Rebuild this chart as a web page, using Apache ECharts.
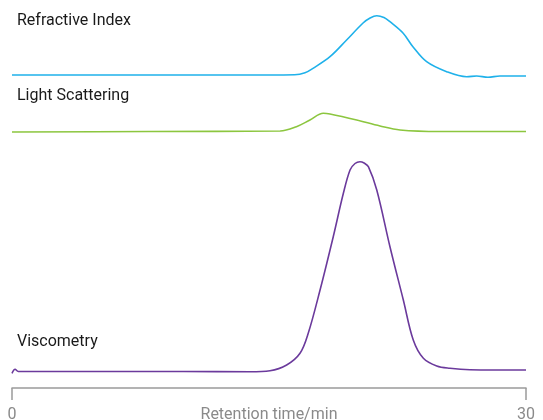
<!DOCTYPE html>
<html>
<head>
    <meta charset="utf-8">
    <title>Retention time</title>
    <script src="https://cdn.jsdelivr.net/npm/echarts@6/dist/echarts.min.js"></script>
    <style>
        html, body { margin: 0; padding: 0; background: #fff; }
        #chart1 { width: 543px; height: 420px; }
    </style>
</head>
<body>
<div id="chart1"></div>
<script type="text/javascript">
    // detector traces, [retention time (min), signal (arb. units)]
    var refractiveIndex = [
        [0, 0], [8, 0], [15, 0], [16.5, 0.2], [17.1, 2.2], [17.57, 6.7], [18.56, 18.3],
        [19.53, 35], [20.49, 52], [20.9, 57], [21.29, 59.3], [21.71, 57.5], [22.06, 53.3],
        [22.82, 42], [23.4, 28.3], [24.2, 13.3], [25.37, 3.3], [26.54, -1.7],
        [27.12, -1], [27.78, -2.3], [28.48, -1], [30, -1]
    ];
    var lightScattering = [
        [0, -0.5], [8, 0], [15.65, 0.5], [16.6, 4.8], [17.39, 11.5], [18.17, 18.2],
        [18.56, 17.5], [20.12, 11.5], [21.48, 5.5], [22.65, 1.5], [24.98, 0], [30, 0]
    ];
    var viscometry = [
        [0, -3.3], [0.18, 0.7], [0.37, -1.5], [5, -1.5], [10, -1.5], [13.89, -1.7],
        [15.06, -0.7], [16.03, 5], [16.81, 16.7], [17.29, 36.7], [17.98, 80],
        [18.75, 133.3], [19.34, 176.7], [19.73, 200], [20.02, 206.5], [20.31, 208.3],
        [20.55, 207], [20.8, 203.3], [21.29, 180], [22.06, 123.3], [22.84, 70],
        [23.42, 30], [24.01, 11.7], [24.79, 4], [25.56, 1.7], [26.73, 0.3], [30, 0]
    ];
    var traceNames = ['Refractive Index', 'Light Scattering', 'Viscometry'];
    var traceColors = ['#1fb1ea', '#8cc63f', '#6b3a9c'];
    var xTicks = [0, 30];
    var xTitle = 'Retention time/min';

    var myChart1 = echarts.init(document.getElementById('chart1'));

    var grids = [
        { left: 12, right: 17, top: 0, height: 100, outerBoundsMode: 'none' },
        { left: 12, right: 17, top: 100, height: 40, outerBoundsMode: 'none' },
        { left: 12, right: 17, top: 150, height: 230, outerBoundsMode: 'none' }
    ];
    var yRanges = [[-25, 75], [-8.5, 31.5], [-10, 220]];
    var allData = [refractiveIndex, lightScattering, viscometry];

    var xAxes = grids.map(function (g, i) {
        var last = i === grids.length - 1;
        return {
            gridIndex: i,
            type: 'value',
            min: xTicks[0],
            max: xTicks[1],
            interval: xTicks[1] - xTicks[0],
            show: last,
            offset: 8,
            splitLine: { show: false },
            axisLine: { show: true, onZero: false, lineStyle: { color: '#9a9a9a', width: 1.5 } },
            axisTick: { show: true, length: 12, lineStyle: { color: '#9a9a9a', width: 1.5 } },
            axisLabel: { color: '#8a8a8a', fontSize: 16, fontFamily: 'Roboto', margin: 19 },
            name: xTitle,
            nameLocation: 'middle',
            nameGap: 19,
            nameMoveOverlap: false,
            nameTextStyle: { color: '#8a8a8a', fontSize: 16, fontFamily: 'Roboto' }
        };
    });
    var yAxes = grids.map(function (g, i) {
        return { gridIndex: i, type: 'value', min: yRanges[i][0], max: yRanges[i][1], show: false };
    });
    var series = allData.map(function (d, i) {
        return {
            name: traceNames[i],
            type: 'line',
            xAxisIndex: i,
            yAxisIndex: i,
            data: d,
            smooth: 0.35,
            showSymbol: false,
            lineStyle: { color: traceColors[i], width: 1.6 }
        };
    });
    var labelY = [21, 96, 342];
    var labels = traceNames.map(function (n, i) {
        return {
            type: 'text',
            left: 17,
            top: labelY[i] - 8,
            style: { text: n, fill: '#1a1a1a', fontSize: 16, fontFamily: 'Roboto' }
        };
    });

    myChart1.setOption({
        animation: false,
        grid: grids,
        xAxis: xAxes,
        yAxis: yAxes,
        series: series,
        graphic: labels
    });
</script>
</body>
</html>
